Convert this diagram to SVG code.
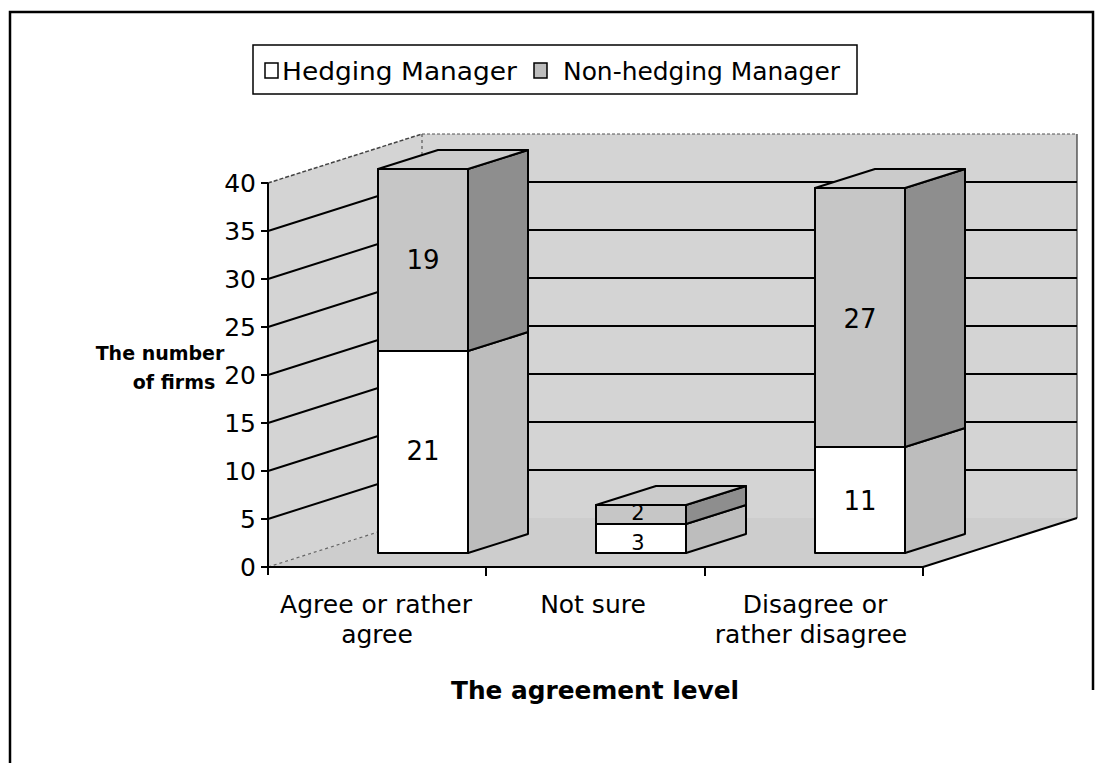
<svg xmlns="http://www.w3.org/2000/svg" width="1098" height="763" viewBox="0 0 1098 763">
  <style>
    .frame { fill: none; stroke: #000; stroke-width: 2.5; }
    .wall { fill: #d4d4d4; stroke: none; }
    .floor { fill: #cdcdcd; stroke: none; }
    .grid { fill: none; stroke: #000; stroke-width: 2; }
    .edge-soft { fill: none; stroke: #444; stroke-width: 1.5; stroke-dasharray: 4 2; }
    .axis { fill: none; stroke: #000; stroke-width: 2; }
    .face-white { fill: #ffffff; stroke: #000; stroke-width: 2; stroke-linejoin: round; }
    .face-gray { fill: #c6c6c6; stroke: #000; stroke-width: 2; stroke-linejoin: round; }
    .face-top { fill: #cbcbcb; stroke: #000; stroke-width: 2; stroke-linejoin: round; }
    .face-side { fill: #bdbdbd; stroke: #000; stroke-width: 2; stroke-linejoin: round; }
    .face-dark { fill: #8e8e8e; stroke: #000; stroke-width: 2; stroke-linejoin: round; }
    .lbl { font-family: "DejaVu Sans", "Liberation Sans", sans-serif; font-size: 25px; fill: #000; }
    .val { font-family: "DejaVu Sans", "Liberation Sans", sans-serif; font-size: 26px; fill: #000; text-anchor: middle; }
    .val-sm { font-family: "DejaVu Sans", "Liberation Sans", sans-serif; font-size: 21px; fill: #000; text-anchor: middle; }
    .tick { font-family: "DejaVu Sans", "Liberation Sans", sans-serif; font-size: 25px; fill: #000; text-anchor: end; }
    .cat { font-family: "DejaVu Sans", "Liberation Sans", sans-serif; font-size: 25px; fill: #000; text-anchor: middle; }
    .title { font-family: "DejaVu Sans", "Liberation Sans", sans-serif; font-weight: bold; font-size: 24px; fill: #000; text-anchor: middle; }
    .ytitle { font-family: "DejaVu Sans", "Liberation Sans", sans-serif; font-weight: bold; font-size: 19px; fill: #000; text-anchor: middle; }
  </style>

  <!-- outer frame -->
  <path class="frame" d="M10,763 V12 H1093 V690"/>

  <!-- legend -->
  <g id="legend">
    <rect x="253" y="45" width="604" height="49" fill="#fff" stroke="#000" stroke-width="1.5"/>
    <rect x="265" y="63" width="13" height="15" fill="#fff" stroke="#000" stroke-width="1.5"/>
    <text class="lbl" x="282" y="80" textLength="235" lengthAdjust="spacingAndGlyphs">Hedging Manager</text>
    <rect x="534" y="63" width="13" height="15" fill="#bdbdbd" stroke="#000" stroke-width="1.5"/>
    <text class="lbl" x="563" y="80" textLength="277" lengthAdjust="spacingAndGlyphs">Non-hedging Manager</text>
  </g>

  <!-- plot area: walls and floor -->
  <g id="plot-area">
    <polygon class="wall" points="268,183 422,134 422,518 268,567"/>
    <rect class="wall" x="422" y="134" width="655" height="384"/>
    <polygon class="floor" points="268,567 422,518 1077,518 923,567"/>
    <!-- wall edges -->
    <line class="edge-soft" x1="268" y1="183" x2="422" y2="134"/>
    <line x1="422" y1="134" x2="1077" y2="134" stroke="#555" stroke-width="1.2" stroke-dasharray="3 2"/>
    <line x1="422" y1="134" x2="422" y2="518" stroke="#555" stroke-width="1.2" stroke-dasharray="3 3"/>
    <line x1="1077" y1="134" x2="1077" y2="518" stroke="#333" stroke-width="1.2"/>
    <line x1="268" y1="567" x2="422" y2="518" stroke="#666" stroke-width="1.2" stroke-dasharray="3 3"/>
  </g>

  <!-- gridlines (left wall + back wall) -->
  <g id="gridlines">
    <polyline class="grid" points="268,519 422,470 1077,470"/>
    <polyline class="grid" points="268,471 422,422 1077,422"/>
    <polyline class="grid" points="268,423 422,374 1077,374"/>
    <polyline class="grid" points="268,375 422,326 1077,326"/>
    <polyline class="grid" points="268,327 422,278 1077,278"/>
    <polyline class="grid" points="268,279 422,230 1077,230"/>
    <polyline class="grid" points="268,231 422,182 1077,182"/>
  </g>

  <!-- axes -->
  <g id="axes">
    <line class="axis" x1="268" y1="183" x2="268" y2="575"/>
    <line class="axis" x1="268" y1="567" x2="923" y2="567"/>
    <line class="axis" x1="923" y1="567" x2="1077" y2="518"/>
    <path class="axis" d="M261,183 H268 M261,231 H268 M261,279 H268 M261,327 H268 M261,375 H268 M261,423 H268 M261,471 H268 M261,519 H268 M261,567 H268"/>
    <path class="axis" d="M486,567 V576 M705,567 V576 M923,567 V576"/>
  </g>

  <!-- y tick labels -->
  <g id="y-labels">
    <text class="tick" x="256" y="192">40</text>
    <text class="tick" x="256" y="240">35</text>
    <text class="tick" x="256" y="288">30</text>
    <text class="tick" x="256" y="336">25</text>
    <text class="tick" x="256" y="384">20</text>
    <text class="tick" x="256" y="432">15</text>
    <text class="tick" x="256" y="480">10</text>
    <text class="tick" x="256" y="528">5</text>
    <text class="tick" x="256" y="576">0</text>
  </g>

  <!-- bar: Agree or rather agree (21 + 19) -->
  <g id="bar-agree">
    <polygon class="face-side" points="468,553 528,534 528,332 468,351"/>
    <polygon class="face-dark" points="468,351 528,332 528,150 468,169"/>
    <polygon class="face-top" points="378,169 438,150 528,150 468,169"/>
    <rect class="face-white" x="378" y="351" width="90" height="202"/>
    <rect class="face-gray" x="378" y="169" width="90" height="182"/>
    <text class="val" x="423" y="460">21</text>
    <text class="val" x="423" y="269">19</text>
  </g>

  <!-- bar: Not sure (3 + 2) -->
  <g id="bar-notsure">
    <polygon class="face-side" points="686,553 746,534 746,505 686,524"/>
    <polygon class="face-dark" points="686,524 746,505 746,486 686,505"/>
    <polygon class="face-top" points="596,505 656,486 746,486 686,505"/>
    <rect class="face-white" x="596" y="524" width="90" height="29"/>
    <rect class="face-gray" x="596" y="505" width="90" height="19"/>
    <text class="val-sm" x="638" y="550">3</text>
    <text class="val-sm" x="638" y="520">2</text>
  </g>

  <!-- bar: Disagree or rather disagree (11 + 27) -->
  <g id="bar-disagree">
    <polygon class="face-side" points="905,553 965,534 965,428 905,447"/>
    <polygon class="face-dark" points="905,447 965,428 965,169 905,188"/>
    <polygon class="face-top" points="815,188 875,169 965,169 905,188"/>
    <rect class="face-white" x="815" y="447" width="90" height="106"/>
    <rect class="face-gray" x="815" y="188" width="90" height="259"/>
    <text class="val" x="860" y="510">11</text>
    <text class="val" x="860" y="328">27</text>
  </g>

  <!-- category labels -->
  <g id="x-labels">
    <text class="cat" x="376" y="613">Agree or rather</text>
    <text class="cat" x="377" y="643">agree</text>
    <text class="cat" x="593" y="613">Not sure</text>
    <text class="cat" x="815" y="613">Disagree or</text>
    <text class="cat" x="811" y="643">rather disagree</text>
  </g>

  <!-- axis titles -->
  <g id="axis-titles">
    <text class="ytitle" x="160" y="360">The number</text>
    <text class="ytitle" x="174" y="389">of firms</text>
    <text class="title" x="595" y="699" textLength="288" lengthAdjust="spacingAndGlyphs">The agreement level</text>
  </g>
</svg>
